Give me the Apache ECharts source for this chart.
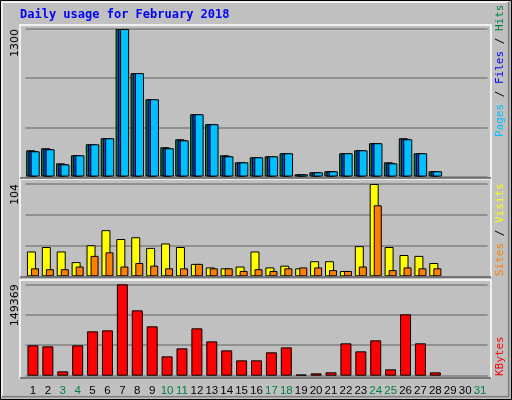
<!DOCTYPE html><html><head><meta charset="utf-8"><script src="https://cdn.jsdelivr.net/npm/echarts@6/dist/echarts.min.js"></script>
<style>html,body{margin:0;padding:0;background:#c0c0c0}#c{width:512px;height:400px}</style></head><body><div id="c"></div><script>
const days=[];for(let i=1;i<=31;i++)days.push(String(i));
const weekends=['3','4','10','11','17','18','24','25','31'];
const hits=[231,249,116,187,284,337,1300,911,681,258,328,549,461,187,125,169,178,205,19,37,46,205,231,293,125,337,205,46];
const files=[225,243,110,187,284,337,1300,911,681,252,322,549,461,182,125,169,178,205,19,37,46,205,231,293,120,332,205,46];
const pages=[222,240,107,187,284,337,1300,911,681,249,319,549,461,178,125,169,178,205,19,37,46,205,231,293,116,328,205,46];
const visits=[28,33,28,16,35,52,42,44,32,37,33,14,10,9,11,28,10,12,9,17,17,6,34,104,33,24,23,15];
const sites=[9,8,8,11,23,27,11,15,12,9,9,14,9,9,6,8,6,9,10,10,7,6,11,80,7,10,9,9];
const kbytes=[49600,48000,7100,49600,72500,74100,149369,106800,80700,31600,44700,77400,56100,41400,25100,25100,38200,46300,2000,3800,5500,52900,39800,57800,10400,100300,52900,5500];
const maxLabels=['1300','104','149369'];
const maxes=[1300,104,149369];
const ch=echarts.init(document.getElementById('c'));
const L=25.5,W=462;
const grids=[{left:L,width:W,top:29,height:147.5},{left:L,width:W,top:184,height:92.3},{left:L,width:W,top:284.3,height:91.4}];
const xAx=grids.map((g,i)=>({gridIndex:i,type:'category',data:days,boundaryGap:true,axisLine:{show:false},axisTick:{show:false},
 axisLabel:{show:i===2,fontFamily:'Liberation Sans',fontSize:11.5,margin:9,interval:0,color:(v)=>weekends.includes(v)?'#008040':'#000'}}));
const yAx=maxes.map((m,i)=>({gridIndex:i,type:'value',min:0,max:m,interval:m/3,axisLabel:{show:false},axisLine:{show:false},axisTick:{show:false},splitLine:{lineStyle:{color:'#808080',width:1.5}}}));
const bs=(c)=>({color:c,borderColor:'#000',borderWidth:1});
const series=[
 {type:'bar',xAxisIndex:0,yAxisIndex:0,data:hits,barWidth:9,barGap:'-75%',itemStyle:bs('#008040'),silent:true},
 {type:'bar',xAxisIndex:0,yAxisIndex:0,data:files,barWidth:9,barGap:'-75%',itemStyle:bs('#0040ff'),silent:true},
 {type:'bar',xAxisIndex:0,yAxisIndex:0,data:pages,barWidth:9,barGap:'-75%',itemStyle:bs('#00c0ff'),silent:true},
 {type:'bar',xAxisIndex:1,yAxisIndex:1,data:visits,barWidth:9,barGap:'-55%',itemStyle:bs('#ffff00'),silent:true},
 {type:'bar',xAxisIndex:1,yAxisIndex:1,data:sites,barWidth:8,barGap:'-55%',itemStyle:bs('#ff8000'),silent:true},
 {type:'bar',xAxisIndex:2,yAxisIndex:2,data:kbytes,barWidth:11,itemStyle:bs('#ff0000'),silent:true}
];
const frames=[[20,25,471,153],[20,179,471,98],[20,280,471,98]];
const mono='11px "DejaVu Sans Mono"';
const graphic=[
 {type:'rect',shape:{x:0.5,y:0.5,width:511,height:399},style:{fill:'none',stroke:'#000',lineWidth:1},z:100},
 {type:'rect',shape:{x:2,y:2,width:506,height:394},style:{fill:'none',stroke:'#fff',lineWidth:1.5},z:100},
 {type:'line',shape:{x1:2,y1:396.5,x2:509,y2:396.5},style:{stroke:'#808080',lineWidth:2},z:101},
 {type:'line',shape:{x1:508.5,y1:2,x2:508.5,y2:397},style:{stroke:'#808080',lineWidth:2},z:101},
 {type:'text',left:20,top:9,style:{text:'Daily usage for February 2018',fill:'#0000ff',font:'bold 12px "DejaVu Sans Mono"'}},
 ...frames.map(f=>({type:'rect',shape:{x:f[0],y:f[1],width:f[2],height:f[3]},style:{fill:'none',stroke:'#fff',lineWidth:1.5},z:50})),
 ...frames.map(f=>({type:'line',shape:{x1:f[0],y1:f[1]+f[3],x2:f[0]+f[2],y2:f[1]+f[3]},style:{stroke:'#000',lineWidth:1},z:51})),
 ...[[29,0],[184,1],[284.3,2]].map(([y,i])=>({type:'text',x:10,y:y,rotation:Math.PI/2,style:{text:maxLabels[i],fill:'#000',font:'11px "DejaVu Sans"',align:'right',verticalAlign:'top'}})),
 {type:'text',x:495,y:137,rotation:Math.PI/2,style:{text:'{a|Pages}{s| / }{b|Files}{s| / }{c|Hits}',verticalAlign:'top',align:'left',rich:{a:{fill:'#00c0ff',font:mono},b:{fill:'#0000ff',font:mono},c:{fill:'#008040',font:mono},s:{fill:'#000',font:mono}}}},
 {type:'text',x:495,y:276,rotation:Math.PI/2,style:{text:'{a|Sites}{s| / }{b|Visits}',verticalAlign:'top',align:'left',rich:{a:{fill:'#ff8000',font:mono},b:{fill:'#ffff00',font:mono},s:{fill:'#000',font:mono}}}},
 {type:'text',x:495,y:376,rotation:Math.PI/2,style:{text:'KBytes',fill:'#ff0000',font:mono,verticalAlign:'top',align:'left'}}
];
ch.setOption({animation:false,backgroundColor:'#c0c0c0',grid:grids,xAxis:xAx,yAxis:yAx,series,graphic});
</script></body></html>
